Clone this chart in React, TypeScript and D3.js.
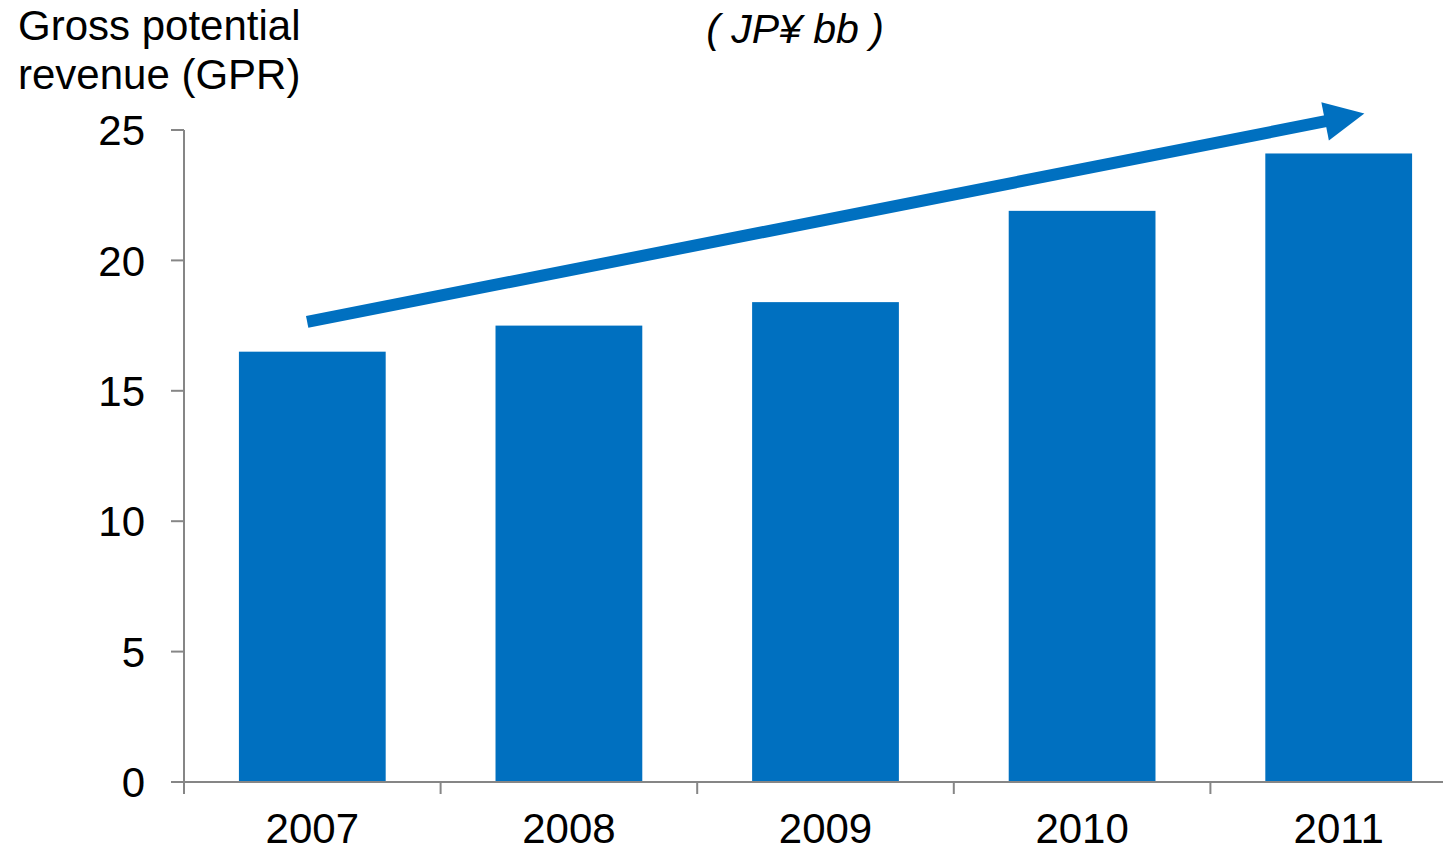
import React from "react";
import * as d3 from "d3";

// Gross potential revenue by year, JP¥ billions
const years = ["2007", "2008", "2009", "2010", "2011"];
const gpr = [16.5, 17.5, 18.4, 21.9, 24.1];
const yTicks = [0, 5, 10, 15, 20, 25];

// Trend arrow, expressed as [band index, value] at tail and tip
const arrowTail: [number, number] = [-0.02, 17.64];
const arrowTip: [number, number] = [4.1, 25.63];

const W = 1443;
const H = 852;
const BLUE = "#0070C0";
const AXIS = "#868686";
const FONT = "'Liberation Sans', Arial, Helvetica, sans-serif";

export default function App() {
  const x = d3
    .scaleBand<string>()
    .domain(years)
    .range([184, 184 + 5 * 256.6])
    .paddingInner(0.428)
    .paddingOuter(0.214);
  const y = d3.scaleLinear().domain([0, 25]).range([782, 130]);

  const step = x.step();
  const gap = (step - x.bandwidth()) / 2;
  const center = (c: string) => (x(c) as number) + x.bandwidth() / 2;
  const idx = d3
    .scaleLinear()
    .domain([0, 1])
    .range([center(years[0]), center(years[0]) + step]);

  // arrow geometry
  const x0 = idx(arrowTail[0]);
  const y0 = y(arrowTail[1]);
  const x1 = idx(arrowTip[0]);
  const y1 = y(arrowTip[1]);
  const ang = Math.atan2(y1 - y0, x1 - x0);
  const headLen = 40;
  const headHalf = 19.5;
  const bx = x1 - headLen * Math.cos(ang);
  const by = y1 - headLen * Math.sin(ang);
  const px = -Math.sin(ang);
  const py = Math.cos(ang);
  const head = [
    [x1, y1],
    [bx + px * headHalf, by + py * headHalf],
    [bx - px * headHalf, by - py * headHalf],
  ];

  const x0Axis = 184;
  const xEnd = 184 + 5 * step;

  return (
    <>
      <style>{`body{margin:0}`}</style>
      <svg width={W} height={H} style={{ display: "block", background: "#fff" }} fontFamily={FONT}>
        {/* title */}
        <text x={18} y={40} fontSize={42} fill="#000">
          Gross potential
        </text>
        <text x={18} y={89} fontSize={42} fill="#000">
          revenue (GPR)
        </text>
        <text x={795} y={43} fontSize={41} fontStyle="italic" textAnchor="middle" fill="#000">
          ( JP¥ bb )
        </text>

        {/* bars */}
        {years.map((c, i) => (
          <rect
            key={c}
            x={x(c)}
            y={y(gpr[i])}
            width={x.bandwidth()}
            height={y(0) - y(gpr[i])}
            fill={BLUE}
          />
        ))}

        {/* y axis */}
        <line x1={x0Axis} x2={x0Axis} y1={y(25)} y2={y(0)} stroke={AXIS} strokeWidth={2} />
        {yTicks.map((t) => (
          <g key={t}>
            <line x1={171} x2={x0Axis} y1={y(t)} y2={y(t)} stroke={AXIS} strokeWidth={2} />
            <text x={145} y={y(t)} dy="0.36em" fontSize={42} textAnchor="end" fill="#000">
              {t}
            </text>
          </g>
        ))}

        {/* x axis */}
        <line x1={171} x2={xEnd} y1={y(0)} y2={y(0)} stroke={AXIS} strokeWidth={2} />
        {years.map((c) => (
          <g key={c}>
            <line
              x1={(x(c) as number) - gap}
              x2={(x(c) as number) - gap}
              y1={y(0)}
              y2={y(0) + 12}
              stroke={AXIS}
              strokeWidth={2}
            />
            <text x={center(c)} y={843} fontSize={42} textAnchor="middle" fill="#000">
              {c}
            </text>
          </g>
        ))}

        {/* trend arrow */}
        <line x1={x0} y1={y0} x2={bx + 2 * Math.cos(ang)} y2={by + 2 * Math.sin(ang)} stroke={BLUE} strokeWidth={12} />
        <polygon points={head.map((p) => p.join(",")).join(" ")} fill={BLUE} />
      </svg>
    </>
  );
}
